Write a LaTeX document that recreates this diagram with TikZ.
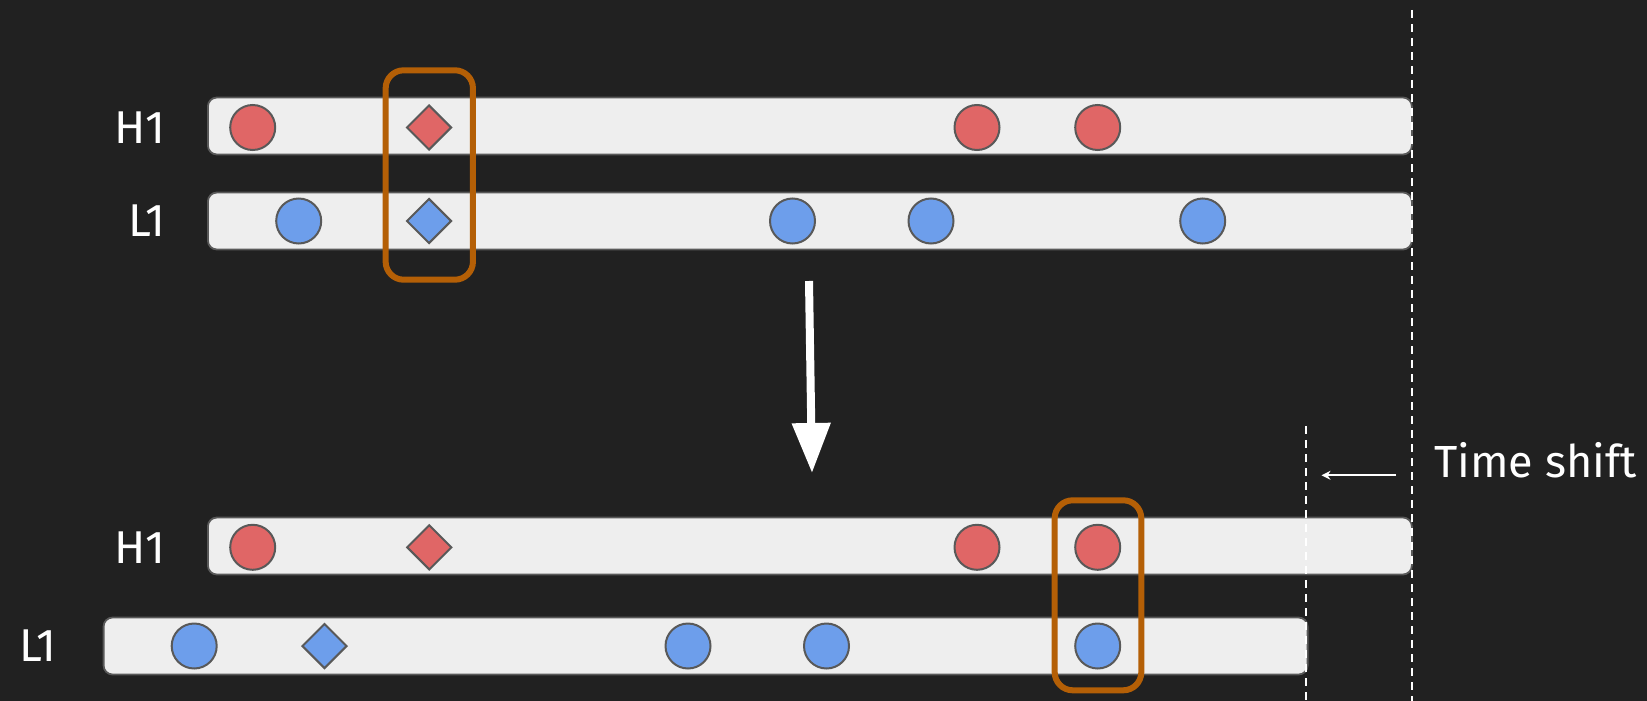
\documentclass[tikz,border=0pt]{standalone}
\usepackage{fontspec}
\setmainfont{Fira Sans}
\usetikzlibrary{shapes.geometric,arrows.meta}
\definecolor{bgc}{HTML}{212121}
\definecolor{barfill}{HTML}{EEEEEE}
\definecolor{edgec}{HTML}{595959}
\definecolor{redc}{HTML}{E06666}
\definecolor{bluec}{HTML}{6D9EEB}
\definecolor{orangec}{HTML}{B45F06}
\tikzset{
  bar/.style={draw=edgec, line width=1.8pt, fill=barfill, rounded corners=9pt, minimum height=57pt, inner sep=0pt, anchor=west},
  evc/.style={circle, draw=edgec, line width=2pt, minimum size=45pt, inner sep=0pt},
  evd/.style={diamond, draw=edgec, line width=2pt, minimum size=45pt, inner sep=0pt, aspect=1},
  redev/.style={fill=redc},
  blueev/.style={fill=bluec},
  selbox/.style={draw=orangec, line width=6pt, rounded corners=18pt, inner sep=0pt},
  lbl/.style={text=white, font=\fontsize{46}{50}\selectfont, inner sep=0pt},
  vdash/.style={draw=white, line width=2pt, dash pattern=on 8pt off 6pt},
}
\begin{document}
\begin{tikzpicture}[x=1pt,y=-1pt]
\fill[bgc] (0,0) rectangle (1647,701);
\useasboundingbox (0,0) rectangle (1647,701);

% dashed reference lines
\coordinate (dOtop) at (1412,10);
\coordinate (dObot) at (1412,701);
\coordinate (dItop) at (1305.5,426);
\coordinate (dIbot) at (1305.5,701);

% top rows
\node[bar, minimum width=1204pt] (barHa) at (207,126) {};
\node[bar, minimum width=1204pt] (barLa) at (207,221) {};
\node[lbl, anchor=east] (labHa) at (166,128) {H1};
\node[lbl, anchor=east] (labLa) at (166,221) {L1};

\node[evc, redev] (ha1) at (252.7,127.5) {};
\node[evd, redev] (ha2) at (429,127.5) {};
\node[evc, redev] (ha3) at (977,127.5) {};
\node[evc, redev] (ha4) at (1097.7,127.5) {};

\node[evc, blueev] (la1) at (298.7,221) {};
\node[evd, blueev] (la2) at (429,221) {};
\node[evc, blueev] (la3) at (792.5,221) {};
\node[evc, blueev] (la4) at (931,221) {};
\node[evc, blueev] (la5) at (1202.7,221) {};

\node[selbox, minimum width=87.3pt, minimum height=209.4pt] (boxA) at (429.3,175) {};

% bottom rows
\node[bar, minimum width=1204pt] (barHb) at (207,546) {};
\node[bar, minimum width=1204pt] (barLb) at (102.7,646) {};
\node[lbl, anchor=east] (labHb) at (166,548) {H1};
\node[lbl, anchor=east] (labLb) at (57,646) {L1};

\node[evc, redev] (hb1) at (252.7,547.3) {};
\node[evd, redev] (hb2) at (429.3,547.3) {};
\node[evc, redev] (hb3) at (977,547.3) {};
\node[evc, redev] (hb4) at (1097.7,547.3) {};

\node[evc, blueev] (lb1) at (194.2,646) {};
\node[evd, blueev] (lb2) at (324.5,646) {};
\node[evc, blueev] (lb3) at (688,646) {};
\node[evc, blueev] (lb4) at (826.5,646) {};
\node[evc, blueev] (lb5) at (1097.7,646) {};

\node[selbox, minimum width=86.6pt, minimum height=190pt] (boxB) at (1098,595.3) {};

% dashed lines (drawn over bars)
\draw[vdash] (dOtop) -- (dObot);
\draw[vdash] (dItop) -- (dIbot);

% big arrow
\coordinate (bigA) at (809,281);
\coordinate (bigB) at (812,473);
\draw[white, line width=8pt, -{Triangle[width=37pt,length=50pt]}] (bigA) -- (bigB);

% time shift arrow
\coordinate (tsA) at (1396,475.3);
\coordinate (tsB) at (1321.5,475.3);
\draw[white, line width=1.8pt, -{Stealth[width=9pt,length=9pt]}] (tsA) -- (tsB);
\node[lbl, anchor=base west, font=\fontsize{45}{50}\selectfont] (tslab) at (1434,477) {Time shift};
\end{tikzpicture}
\end{document}
